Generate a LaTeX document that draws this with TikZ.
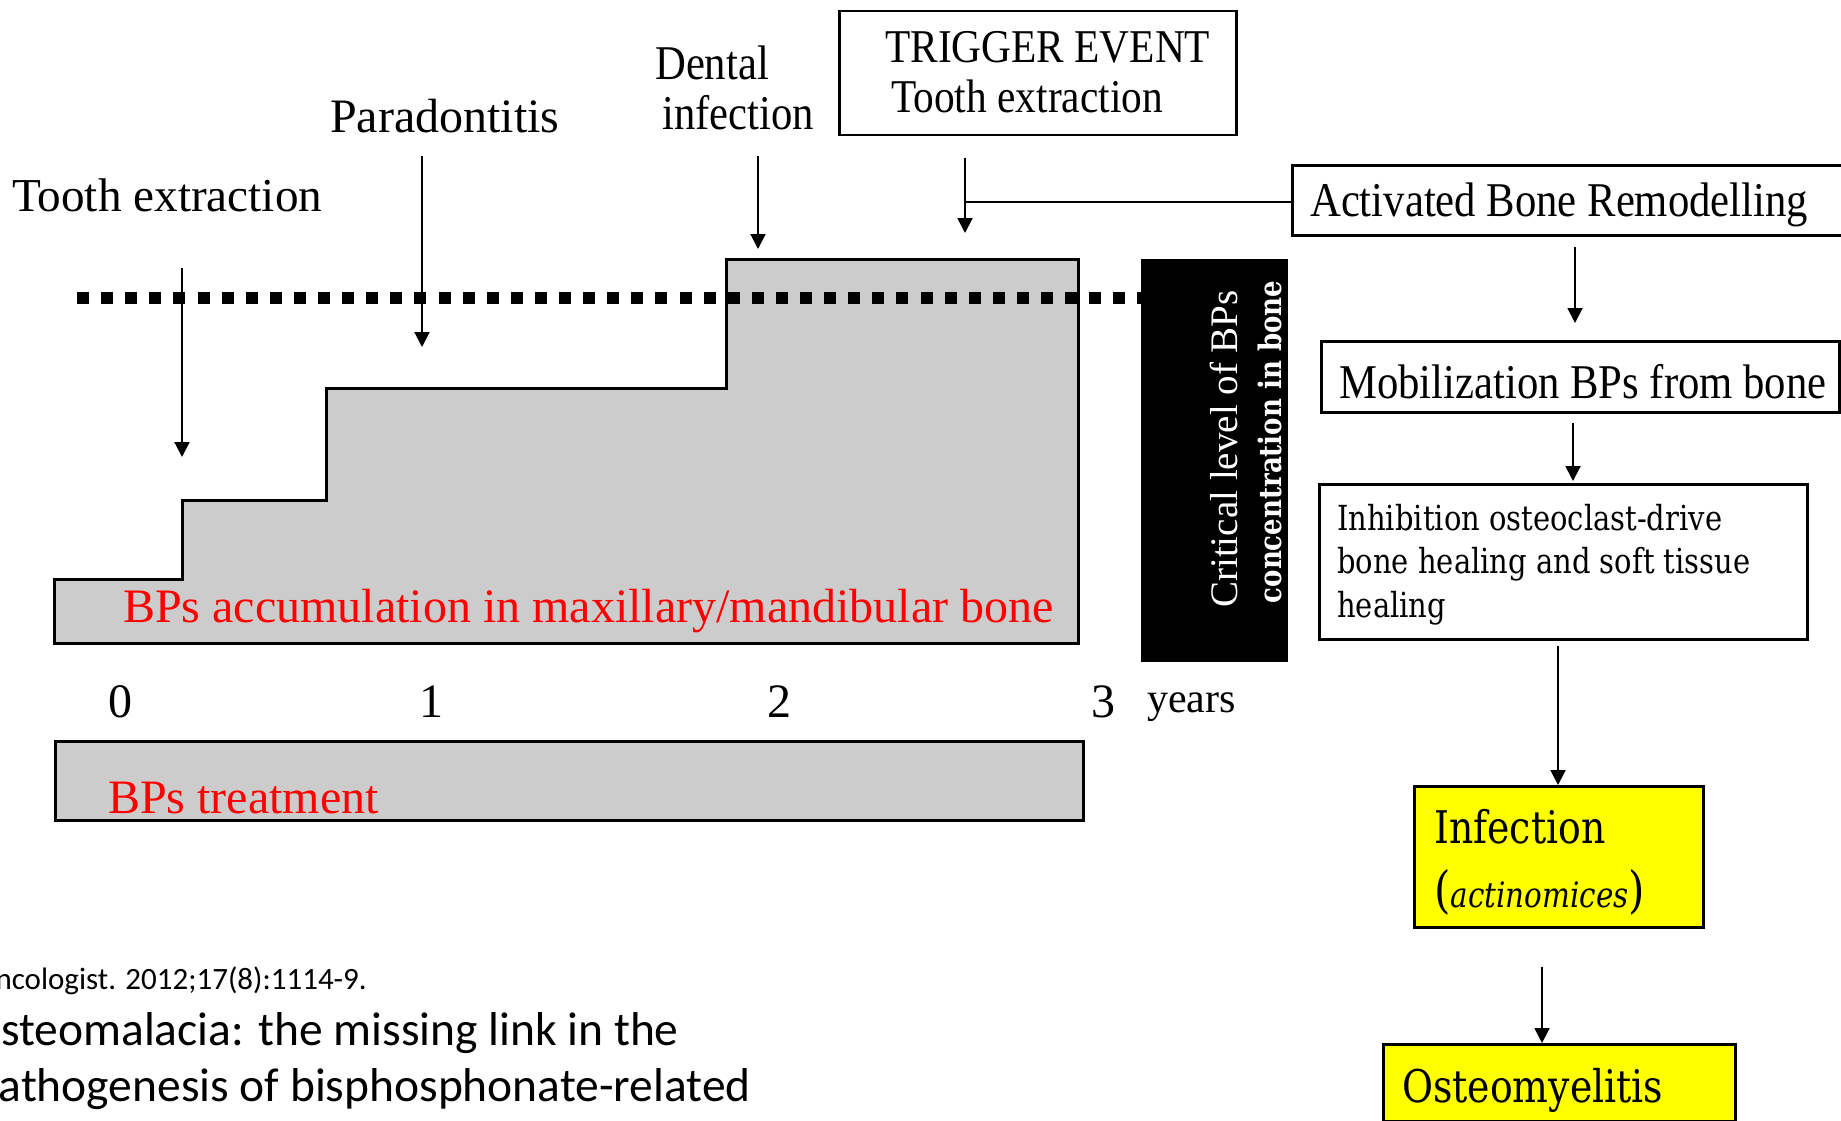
\documentclass[tikz,border=0pt]{standalone}
\usepackage{fontspec}
\setmainfont{Liberation Serif}
\newfontfamily\condf[FakeStretch=0.88]{Liberation Serif}
\newfontfamily\dvs[FakeStretch=0.84]{DejaVu Serif}
\newfontfamily\calf{Carlito}
\usetikzlibrary{arrows.meta}
\definecolor{bpgray}{RGB}{204,204,204}
\definecolor{bpred}{RGB}{255,0,0}
\definecolor{bpyel}{RGB}{255,255,0}
\newcommand\fsz[1]{\fontsize{#1}{#1}\selectfont}
\tikzset{
  box/.style={draw=black, line width=2.5pt, inner sep=0pt, anchor=north west},
  arr/.style={-{Triangle[width=15pt,length=15pt]}, line width=2pt},
  plain/.style={line width=2pt},
  lbl/.style={inner sep=0pt, anchor=base west},
  num/.style={inner sep=0pt, anchor=base, font=\fsz{48}},
  crit/.style={inner sep=0pt, anchor=base, rotate=90, text=white},
}
\begin{document}
\begin{tikzpicture}[x=1pt, y=-1pt]
\useasboundingbox (0,0) rectangle (1841,1121);
\clip (0,0) rectangle (1841,1121);

% staircase of accumulation
\draw[fill=bpgray, line width=3pt] (54,643) -- (54,579) -- (182,579) -- (182,500)
  -- (326,500) -- (326,388) -- (726,388) -- (726,259) -- (1078,259) -- (1078,643) -- cycle;
\node[lbl, text=bpred, font=\fsz{48}] (accT) at (123,622) {BPs accumulation in maxillary/mandibular bone};

% critical level dotted line
\draw[line width=12pt, dash pattern=on 12pt off 12.1pt] (77,298) -- (1141,298);

% black box
\node[box, fill=black, line width=1pt, minimum width=146pt, minimum height=402pt] (critbox) at (1141,259) {};
\node[crit, font=\fsz{39}] (critT) at (1237,449) {Critical level of BPs};
\node[crit, font=\dvs\bfseries\fsz{31}] (concT) at (1281,442) {concentration in bone};

% treatment bar
\node[box, fill=bpgray, line width=3pt, minimum width=1028pt, minimum height=79pt] (treat) at (54,740) {};
\node[lbl, text=bpred, font=\fsz{48}] (treatT) at (108,813) {BPs treatment};

% axis labels
\node[num] (n0) at (120,717) {0};
\node[num] (n1) at (431,717) {1};
\node[num] (n2) at (779,717) {2};
\node[num] (n3) at (1103,717) {3};
\node[lbl, font=\fsz{42}] (yrs) at (1147,712) {years};

% event labels
\node[lbl, font=\fsz{47.2}] (lte) at (12,211) {Tooth extraction};
\node[lbl, font=\fsz{48}] (lpar) at (330,132) {Paradontitis};
\node[lbl, font=\condf\fsz{48.5}] (lden) at (655,80) {Dental};
\node[lbl, font=\condf\fsz{48.5}] (linf) at (662,130) {infection};

\coordinate (teEnd) at (182,457);
\coordinate (parEnd) at (422,347);
\coordinate (denEnd) at (758,249);
\draw[arr, shorten <=56pt] (lte.south -| teEnd) -- (teEnd);
\draw[arr, shorten <=23pt] (lpar.south -| parEnd) -- (parEnd);
\draw[arr, shorten <=25pt] (linf.south -| denEnd) -- (denEnd);

% trigger box
\node[box, minimum width=397pt, minimum height=124pt] (trig) at (838,10) {};
\node[lbl, font=\condf\fsz{47}] (trigT1) at (885,63) {TRIGGER EVENT};
\node[lbl, font=\condf\fsz{47}] (trigT2) at (891,113) {Tooth extraction};

% activated bone remodelling
\node[box, minimum width=620pt, minimum height=70pt] (act) at (1291,164) {};
\node[lbl, font=\condf\fsz{48.5}] (actT) at (1310,216) {Activated Bone Remodelling};
\coordinate (trigEnd) at (965,233);
\coordinate (hz) at (965,202);
\draw[arr, shorten <=21pt] (trig.south -| trigEnd) -- (trigEnd);
\draw[plain] (hz -| act.west) -- (hz);

% mobilization
\node[box, minimum width=518pt, minimum height=71pt] (mob) at (1320,340) {};
\node[lbl, font=\condf\fsz{48.5}] (mobT) at (1339,398) {Mobilization BPs from bone};
\coordinate (c1) at (1575,0);
\draw[arr, shorten <=10pt, shorten >=17pt] (act.south -| c1) -- (mob.north -| c1);

% inhibition
\node[box, minimum width=488pt, minimum height=155pt] (inh) at (1318,483) {};
\node[lbl, font=\dvs\fsz{34.5}] (inh1) at (1337,530.5) {Inhibition osteoclast-drive};
\node[lbl, font=\dvs\fsz{34.5}] (inh2) at (1337,573) {bone healing and soft tissue};
\node[lbl, font=\dvs\fsz{34.5}] (inh3) at (1337,617) {healing};
\coordinate (c2) at (1573,0);
\draw[arr, shorten <=9pt, shorten >=2pt] (mob.south -| c2) -- (inh.north -| c2);

% infection
\node[box, fill=bpyel, minimum width=289pt, minimum height=141pt] (inf) at (1413,785) {};
\node[lbl, font=\dvs\fsz{45}] (infT1) at (1434,843) {Infection};
\node[lbl, font=\dvs\fsz{35}] (infT2) at (1434,907) {{\fsz{50}(}\textit{actinomices}{\fsz{50})}};
\coordinate (c3) at (1558,0);
\draw[arr, shorten <=5pt] (inh.south -| c3) -- (inf.north -| c3);

% osteomyelitis
\node[box, fill=bpyel, minimum width=352pt, minimum height=77pt] (ost) at (1382,1043) {};
\node[lbl, font=\dvs\fsz{45}] (ostT) at (1402,1102) {Osteomyelitis};
\coordinate (c4) at (1542,0);
\draw[arr, shorten <=38pt] (inf.south -| c4) -- (ost.north -| c4);

% citation
\node[inner sep=0pt, anchor=base east, font=\calf\fsz{31}] (cit1) at (367,989) {Oncologist. 2012;17(8):1114-9.};
\node[inner sep=0pt, anchor=base east, font=\calf\fsz{47.5}] (cit2) at (679,1045) {Osteomalacia: the missing link in the};
\node[inner sep=0pt, anchor=base east, font=\calf\fsz{47.5}] (cit3) at (751,1101) {pathogenesis of bisphosphonate-related};
\end{tikzpicture}
\end{document}
